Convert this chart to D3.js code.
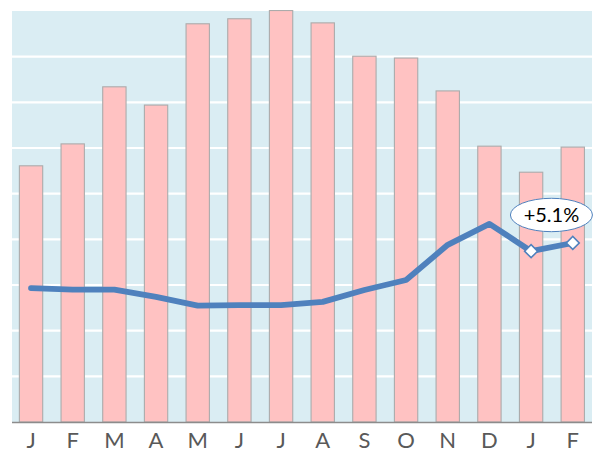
<!DOCTYPE html>
<html>
<head>
<meta charset="utf-8">
<script src="https://cdn.jsdelivr.net/npm/d3@7"></script>
<style>
  html, body { margin: 0; padding: 0; background: #ffffff; }
  svg { display: block; }
</style>
</head>
<body>
<svg id="chart" width="600" height="454"></svg>
<script>
// ---- data ----
const months = ["J","F","M","A","M","J","J","A","S","O","N","D","J","F"];
const barValues = [5.61, 6.09, 7.34, 6.94, 8.72, 8.83, 9.01, 8.74, 8.01, 7.97, 7.25, 6.04, 5.47, 6.02];
const lineValues = [2.93, 2.90, 2.90, 2.74, 2.55, 2.56, 2.56, 2.63, 2.89, 3.11, 3.88, 4.34, 3.74, 3.92];
const gridTicks = [1, 2, 3, 4, 5, 6, 7, 8];
const markerIndices = [12, 13];
const annotationText = "+5.1%";

// ---- layout ----
const svg = d3.select("#chart");
const plot = { left: 12, right: 592, top: 11, bottom: 422 };

const x = d3.scaleBand()
  .domain(months.map((d, i) => i))
  .range([10.2, 593.6])
  .paddingInner(0.44)
  .paddingOuter(0.22);

const y = d3.scaleLinear().domain([0, 9]).range([plot.bottom, plot.top]);

// background
svg.append("rect")
  .attr("x", plot.left).attr("y", plot.top)
  .attr("width", plot.right - plot.left).attr("height", plot.bottom - plot.top)
  .attr("fill", "#DAEDF3");

// gridlines
svg.append("g").selectAll("line").data(gridTicks).join("line")
  .attr("x1", plot.left).attr("x2", plot.right)
  .attr("y1", d => y(d)).attr("y2", d => y(d))
  .attr("stroke", "#ffffff").attr("stroke-width", 2.2);

// bars
svg.append("g").selectAll("rect").data(barValues).join("rect")
  .attr("x", (d, i) => x(i))
  .attr("y", d => y(d))
  .attr("width", x.bandwidth())
  .attr("height", d => plot.bottom - y(d))
  .attr("fill", "#FFC2C2")
  .attr("stroke", "#ABABAB")
  .attr("stroke-width", 1.1);

// x axis
const axis = svg.append("g")
  .attr("transform", `translate(0,${plot.bottom})`)
  .call(d3.axisBottom(x).tickSize(0).tickFormat(i => months[i]));
axis.select(".domain")
  .attr("d", `M${plot.left},0.5H${plot.right}`)
  .attr("stroke", "#8C8C8C").attr("stroke-width", 1.6);
axis.selectAll("text")
  .attr("y", 26).attr("dy", 0)
  .attr("font-family", "Lato, 'Open Sans', sans-serif")
  .attr("font-size", 22)
  .attr("fill", "#595959");

// line
const cx = i => x(i) + x.bandwidth() / 2;
const line = d3.line().x((d, i) => cx(i)).y(d => y(d));
svg.append("path")
  .datum(lineValues)
  .attr("d", line)
  .attr("fill", "none")
  .attr("stroke", "#4F81BD")
  .attr("stroke-width", 5.8)
  .attr("stroke-linejoin", "round")
  .attr("stroke-linecap", "round");

// markers
svg.append("g").selectAll("path").data(markerIndices).join("path")
  .attr("transform", i => `translate(${cx(i)},${y(lineValues[i])}) rotate(45)`)
  .attr("d", "M-4.6,-4.6H4.6V4.6H-4.6Z")
  .attr("fill", "#ffffff")
  .attr("stroke", "#4F81BD")
  .attr("stroke-width", 1.6);

// annotation
const ax = (cx(12) + cx(13)) / 2 - 0.5;
const ay = y(lineValues[13]) - 28;
svg.append("ellipse")
  .attr("cx", ax).attr("cy", ay).attr("rx", 41).attr("ry", 16.7)
  .attr("fill", "#ffffff").attr("stroke", "#4F81BD").attr("stroke-width", 1);
svg.append("text")
  .attr("x", ax).attr("y", ay + 7)
  .attr("text-anchor", "middle")
  .attr("font-family", "Lato, 'Open Sans', sans-serif")
  .attr("font-size", 20)
  .attr("fill", "#000000")
  .text(annotationText);
</script>
</body>
</html>
